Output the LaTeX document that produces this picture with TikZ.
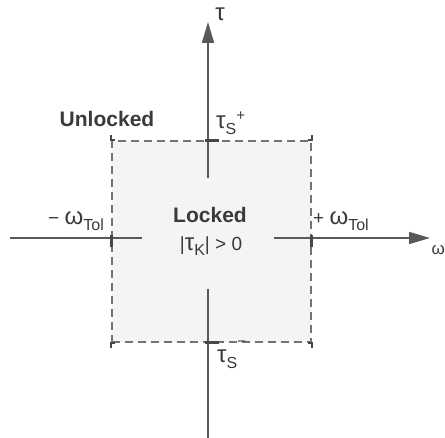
\documentclass[tikz,border=0pt]{standalone}
\usepackage{fontspec}
\setmainfont{Liberation Sans}
\usepackage{xcolor}
\usetikzlibrary{arrows.meta}
\definecolor{AxGray}{HTML}{595959}
\definecolor{TxGray}{HTML}{3A3A3A}
\definecolor{BoxBg}{HTML}{F4F4F4}
\newcommand{\gk}[1]{{\fontsize{24}{26}\selectfont #1}}
\newcommand{\lowtxt}[1]{\raisebox{-0.55ex}{\fontsize{16}{18}\selectfont #1}}
\newcommand{\hightxt}[1]{\raisebox{0.8ex}{\fontsize{15}{18}\selectfont #1}}
\begin{document}
\begin{tikzpicture}[x=1pt, y=-1pt,
  every node/.style={font=\fontsize{19}{22}\selectfont, text=TxGray, inner sep=0pt},
  bold/.style={font=\fontsize{21}{24}\selectfont\bfseries},
  lockbox/.style={rectangle, draw=AxGray!85, fill=BoxBg, line width=1.3pt,
                  dash pattern=on 8pt off 5pt, minimum width=199pt, minimum height=201pt},
  axis/.style={draw=AxGray, line width=1.8pt},
  arr/.style={axis, -{Triangle[length=21pt, width=12pt]}},
  tick/.style={draw=AxGray!80!black, line width=2.8pt},
  corner/.style={draw=AxGray!80!black, line width=2pt},
]
\useasboundingbox (0,0) rectangle (445,438);
\node[lockbox] (box) at (211.5,241.5) {};
\coordinate (tauTop)  at (208, 22);
\coordinate (tauIn)   at (208,178);
\coordinate (tauLow)  at (208,289);
\coordinate (tauBot)  at (208,440);
\coordinate (wLeft)   at ( 10,238);
\coordinate (wInL)    at (142,238);
\coordinate (wInR)    at (274,238);
\coordinate (wRight)  at (430,238);
\draw[arr]  (tauIn)  -- (tauTop);
\draw[axis] (tauLow) -- (tauBot);
\draw[axis] (wLeft)  -- (wInL);
\draw[arr]  (wInR)   -- (wRight);
\draw[tick] ([xshift=-7pt]box.north) -- ([xshift=7pt]box.north);
\draw[tick] ([xshift=-7pt]box.south) -- ([xshift=7pt]box.south);
\draw[tick] ([yshift=-6pt]box.west)  -- ([yshift=6pt]box.west);
\draw[tick] ([yshift=-6pt]box.east)  -- ([yshift=6pt]box.east);
\draw[corner] ([yshift=5pt]box.north west)  -- (box.north west) -- ([xshift=4pt]box.north west);
\draw[corner] ([yshift=5pt]box.north east)  -- (box.north east) -- ([xshift=-4pt]box.north east);
\draw[corner] ([yshift=-5pt]box.south west) -- (box.south west) -- ([xshift=4pt]box.south west);
\draw[corner] ([yshift=-5pt]box.south east) -- (box.south east) -- ([xshift=-4pt]box.south east);
\node (tau)   at (220, 14) {\gk{τ}};
\node[anchor=base west] (tsp)  at (216,129) {\gk{τ}\lowtxt{S}\hightxt{+}};
\node[anchor=base west] (tsm)  at (217,363) {\gk{τ}\lowtxt{S}\raisebox{1.6ex}{\fontsize{15}{18}\selectfont −}};
\node[bold] (unl)   at (107,119) {Unlocked};
\node[bold] (lck)   at (210,215) {Locked};
\node (cond)  at (211,246) {|\gk{τ}\lowtxt{K}| > 0};
\node[anchor=base east] (wneg) at (104,225) {− \gk{ω}\lowtxt{Tol}};
\node[anchor=base west] (wpos) at (313,225) {+ \gk{ω}\lowtxt{Tol}};
\node[anchor=east] (omg) at (445,250) {\fontsize{17}{20}\selectfont ω};
\end{tikzpicture}
\end{document}
